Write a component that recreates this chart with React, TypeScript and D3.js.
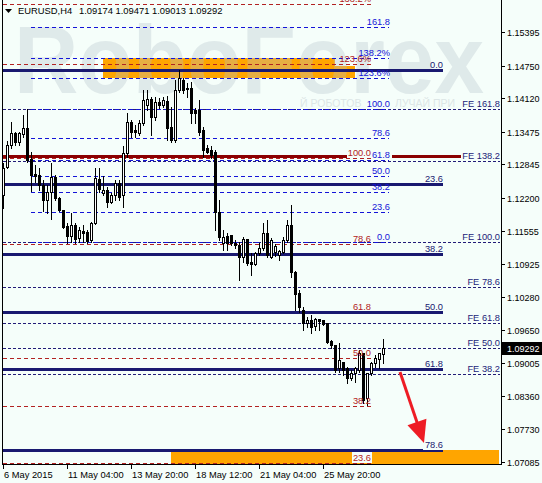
import React from 'react';
import * as d3 from 'd3';

const W = 542;
const H = 483;

// H4 EURUSD candles (bar index 0 = 6 May 2015)
const openP = [1.1225,1.1279,1.1322,1.1345,1.1327,1.1343,1.1355,1.1295,1.1266,1.1264,
1.1244,1.1215,1.1231,1.1260,1.1219,1.1196,1.1165,1.1146,1.1167,1.1142,
1.1156,1.1154,1.1138,1.1171,1.1256,1.1229,1.1235,1.1212,1.1225,1.1248,
1.1225,1.1306,1.1366,1.1351,1.1345,1.1364,1.1399,1.1411,1.1376,1.1405,
1.1399,1.1407,1.1356,1.1331,1.1428,1.1447,1.1432,1.1432,1.1389,1.1389,
1.1351,1.1316,1.1312,1.1308,1.1192,1.1132,1.1146,1.1148,1.1132,1.1129,
1.1105,1.1140,1.1096,1.1092,1.1113,1.1123,1.1152,1.1105,1.1115,1.1109,
1.1115,1.1138,1.1167,1.1076,1.1036,1.1003,1.0978,1.0984,1.0972,1.0985,
1.0984,1.0978,1.0943,1.0935,1.0891,1.0902,1.0891,1.0871,1.0881,1.0887,
1.0920,1.0833,1.0881,1.0900,1.0908,1.09174];
const highP = [1.1287,1.1329,1.1366,1.1347,1.1347,1.1380,1.1391,1.1308,1.1283,1.1277,
1.1254,1.1244,1.1287,1.1264,1.1221,1.1196,1.1171,1.1190,1.1171,1.1163,
1.1167,1.1157,1.1173,1.1277,1.1277,1.1262,1.1241,1.1229,1.1254,1.1254,
1.1320,1.1384,1.1370,1.1360,1.1370,1.1428,1.1428,1.1414,1.1414,1.1413,
1.1414,1.1416,1.1395,1.1447,1.1467,1.1451,1.1442,1.1443,1.1393,1.1409,
1.1356,1.1322,1.1320,1.1312,1.1215,1.1157,1.1152,1.1148,1.1138,1.1134,
1.1144,1.1140,1.1113,1.1115,1.1132,1.1171,1.1177,1.1142,1.1130,1.1119,
1.1144,1.1177,1.1206,1.1078,1.1041,1.1009,1.0989,1.0993,1.0987,1.0985,
1.0984,1.0978,1.0945,1.0935,1.0939,1.0902,1.0893,1.0887,1.0893,1.0926,
1.0920,1.0881,1.0902,1.0916,1.0920,1.09471];
const lowP = [1.1200,1.1277,1.1316,1.1322,1.1322,1.1337,1.1289,1.1233,1.1250,1.1235,
1.1194,1.1190,1.1179,1.1215,1.1194,1.1161,1.1132,1.1134,1.1132,1.1134,
1.1134,1.1132,1.1134,1.1169,1.1231,1.1225,1.1202,1.1210,1.1215,1.1215,
1.1202,1.1299,1.1337,1.1337,1.1341,1.1360,1.1389,1.1341,1.1370,1.1393,
1.1395,1.1331,1.1327,1.1327,1.1424,1.1422,1.1414,1.1364,1.1364,1.1341,
1.1299,1.1306,1.1297,1.1157,1.1138,1.1119,1.1119,1.1129,1.1123,1.1061,
1.1096,1.1090,1.1070,1.1090,1.1109,1.1119,1.1105,1.1103,1.1107,1.1099,
1.1113,1.1134,1.1067,1.1003,1.0999,1.0964,1.0970,1.0958,1.0964,1.0964,
1.0974,1.0939,1.0929,1.0883,1.0883,1.0877,1.0862,1.0868,1.0864,1.0883,
1.0823,1.0819,1.0877,1.0893,1.0891,1.09013];
const closeP = [1.1277,1.1322,1.1345,1.1327,1.1345,1.1355,1.1293,1.1264,1.1262,1.1244,
1.1215,1.1231,1.1260,1.1219,1.1196,1.1163,1.1146,1.1167,1.1140,1.1157,
1.1152,1.1136,1.1171,1.1258,1.1237,1.1235,1.1212,1.1225,1.1248,1.1221,
1.1306,1.1366,1.1347,1.1347,1.1364,1.1409,1.1411,1.1376,1.1405,1.1399,
1.1409,1.1355,1.1331,1.1428,1.1451,1.1428,1.1430,1.1384,1.1384,1.1347,
1.1312,1.1308,1.1302,1.1192,1.1144,1.1144,1.1132,1.1132,1.1129,1.1105,
1.1140,1.1094,1.1092,1.1113,1.1123,1.1152,1.1109,1.1138,1.1127,1.1117,
1.1138,1.1167,1.1076,1.1034,1.1009,1.0978,1.0984,1.0970,1.0985,1.0982,
1.0976,1.0941,1.0935,1.0887,1.0906,1.0887,1.0871,1.0881,1.0891,1.0920,
1.0829,1.0881,1.0900,1.0910,1.0920,1.09292];

const priceTicks = [1.15395, 1.1475, 1.1412, 1.13475, 1.12845, 1.122, 1.11555, 1.10925, 1.1028, 1.0965, 1.09005, 1.0836, 1.0773, 1.07085];
const timeTickBars = [0, 16, 32, 48, 64, 80];
const timeTickLabels = ['6 May 2015', '11 May 04:00', '13 May 20:00', '18 May 12:00', '21 May 04:00', '25 May 20:00'];

const headerSymbol = 'EURUSD,H4';
const headerOHLC = '1.09174 1.09471 1.09013 1.09292';
const lastPrice = 1.09292;

// Fibonacci retracement (blue dashed)
const blueLevels = [1.1550, 1.1490, 1.1451, 1.1391, 1.1335, 1.1293, 1.1262, 1.1231, 1.1192, 1.1134];
const blueLabels = ['161.8', '138.2%', '123.6%', '100.0', '78.6', '61.8', '50.0', '38.2', '23.6', '0.0'];
const blueRange = [7, 96.5];

// Fibonacci retracement (red dashed)
const redLevels = [1.1594, 1.1478, 1.1297, 1.1130, 1.0999, 1.0910, 1.0817, 1.0707];
const redLabels = ['138.2%', '123.6%', '100.0', '78.6', '61.8', '50.0', '38.2', '23.6'];
const redRange = [0, 92];

// Fibonacci retracement (navy solid)
const navyLevels = [1.1467, 1.1246, 1.1111, 1.0999, 1.0889, 1.0732];
const navyLabels = ['0.0', '23.6', '38.2', '50.0', '61.8', '78.6'];
const navyRange = [0, 110];

// Fibonacci expansion (navy dashed)
const feLevels = [1.1391, 1.1291, 1.1134, 1.1047, 1.0978, 1.0929, 1.0879];
const feLabels = ['FE 161.8', 'FE 138.2', 'FE 100.0', 'FE 78.6', 'FE 61.8', 'FE 50.0', 'FE 38.2'];
const feRange = [0, 124.25];

// Dark red horizontal support line
const supportLevel = 1.1300;
const supportSegments = [[0, 86], [97.25, 114.5]];

// Orange zones [barStart, barEnd, priceTop, priceBottom]
const zoneBarStart = [25, 25, 42];
const zoneBarEnd = [83, 88, 124];
const zoneTop = [1.1490, 1.1475, 1.0732];
const zoneBottom = [1.1475, 1.1451, 1.0700];

// Forecast arrow
const arrowBars = [99.25, 105.25];
const arrowPrices = [1.0883, 1.0746];

const BG = '#F5FEFA';
const FONT = "'Liberation Sans', Arial, sans-serif";
const NAVY = '#191970';
const BLUE = '#1414D8';
const RED = '#B22222';
const DARKRED = '#8B0000';
const FE_COL = '#231C78';

export default function App() {
  const x = d3.scaleLinear().domain([0, 124]).range([3, 499]);
  const y = d3.scaleLinear().domain([1.15395, 1.07085]).range([32.3, 462.3]);
  const px = (i: number) => Math.round(x(i));
  const py = (p: number) => Math.round(y(p));

  const plotRight = 501;
  const plotBottom = 464;

  const hline = (key: string, a: number, b: number, p: number, color: string, width: number, dash?: string) => (
    <line key={key} x1={px(a)} x2={px(b)} y1={py(p) + 0.5} y2={py(p) + 0.5}
      stroke={color} strokeWidth={width} strokeDasharray={dash} shapeRendering="crispEdges" />
  );

  const candles = openP.map((o, i) => {
    const c = closeP[i];
    const cx = px(i) + 0.5;
    const yh = py(highP[i]);
    const yl = py(lowP[i]);
    const yo = py(o);
    const yc = py(c);
    const top = Math.min(yo, yc);
    const bot = Math.max(yo, yc);
    const bull = c > o;
    return (
      <g key={'c' + i} shapeRendering="crispEdges">
        <line x1={cx} x2={cx} y1={yh} y2={yl + 1} stroke="#000" strokeWidth={1} />
        {bull ? (
          <rect x={cx - 1} y={top + 0.5} width={2} height={Math.max(0, bot - top)} fill="#FFFFFF" stroke="#000" strokeWidth={1} />
        ) : (
          <rect x={cx - 1.5} y={top} width={3} height={Math.max(1, bot - top + 1)} fill="#000" />
        )}
      </g>
    );
  });

  // arrow geometry
  const ax1 = x(arrowBars[0]);
  const ay1 = y(arrowPrices[0]);
  const ax2 = x(arrowBars[1]);
  const ay2 = y(arrowPrices[1]);
  const len = Math.hypot(ax2 - ax1, ay2 - ay1);
  const ux = (ax2 - ax1) / len;
  const uy = (ay2 - ay1) / len;
  const headL = 22;
  const headW = 10;
  const bx = ax2 - ux * headL;
  const by = ay2 - uy * headL;
  const head = `${ax2},${ay2} ${bx - uy * headW},${by + ux * headW} ${bx + uy * headW},${by - ux * headW}`;

  return (
    <div style={{ position: 'absolute', left: 0, top: 0, width: W, height: H }}>
      <svg width={W} height={H} style={{ display: 'block' }} fontFamily={FONT}>
        <defs>
          <clipPath id="plot">
            <rect x={3} y={0} width={plotRight - 3} height={plotBottom} />
          </clipPath>
        </defs>
        <rect x={0} y={0} width={W} height={H} fill={BG} />

        <g clipPath="url(#plot)">
          {/* orange zones */}
          {zoneBarStart.map((s, i) => (
            <rect key={'z' + i} x={px(s)} y={py(zoneTop[i])} width={px(zoneBarEnd[i]) - px(s)}
              height={py(zoneBottom[i]) - py(zoneTop[i])} fill="#FFA500" />
          ))}

          {/* watermark */}
          <text x={14} y={93} fontSize={97} fontWeight="bold" fill="#B4C2CA" opacity={0.33} textLength={470}
            lengthAdjust="spacingAndGlyphs" fontFamily={FONT}>RoboForex</text>
          <text x={300} y={107} fontSize={10.5} fill="#C9D3D6" opacity={0.55}>Й РОБОТОВ</text>
          <text x={395} y={107} fontSize={10.5} fill="#C9D3D6" opacity={0.55}>ЛУЧАЙ ПРИ</text>

          {/* FE lines */}
          {feLevels.map((p, i) => hline('fe' + i, feRange[0], feRange[1], p, FE_COL, 1, '3,2'))}
          {/* red dashed */}
          {redLevels.map((p, i) => hline('r' + i, redRange[0], redRange[1], p, RED, 1, '4,3'))}
          {/* blue dashed */}
          {blueLevels.map((p, i) => hline('b' + i, blueRange[0], blueRange[1], p, BLUE, 1, '4,3'))}
          {/* navy solid */}
          {navyLevels.map((p, i) => hline('n' + i, navyRange[0], navyRange[1], p, NAVY, 3))}
          {/* dark red support */}
          {supportSegments.map((s, i) => hline('s' + i, s[0], s[1], supportLevel, DARKRED, 3))}

          {candles}

          {/* labels */}
          {feLevels.map((p, i) => (
            <text key={'fel' + i} x={px(feRange[1])} y={py(p) - 2} fontSize={9.3} fill={FE_COL} textAnchor="end">{feLabels[i]}</text>
          ))}
          {redLevels.map((p, i) => {
            const tx = px(redRange[1]);
            const isLow = i === redLevels.length - 1;
            return (
              <g key={'rl' + i}>
                {isLow && <rect x={tx - 19} y={py(p) - 11} width={20} height={11} fill={BG} />}
                <text x={tx} y={py(p) - 2} fontSize={9.3} fill={RED} textAnchor="end">{redLabels[i]}</text>
              </g>
            );
          })}
          {blueLevels.map((p, i) => (
            <text key={'bl' + i} x={px(blueRange[1]) + 1} y={py(p) - 2} fontSize={9.3} fill={BLUE} textAnchor="end">{blueLabels[i]}</text>
          ))}
          {navyLevels.map((p, i) => {
            const tx = px(navyRange[1]);
            const isLow = i === navyLevels.length - 1;
            return (
              <g key={'nl' + i}>
                {isLow && <rect x={tx - 20} y={py(p) - 10} width={21} height={10} fill={BG} />}
                <text x={tx} y={py(p) - 2} fontSize={9.3} fill={NAVY} textAnchor="end">{navyLabels[i]}</text>
              </g>
            );
          })}

          {/* arrow */}
          <line x1={ax1} y1={ay1} x2={bx + ux * 2} y2={by + uy * 2} stroke="#EE1C24" strokeWidth={3} />
          <polygon points={head} fill="#EE1C24" />
        </g>

        {/* header */}
        <polygon points="5,9 12,9 8.5,13" fill="#000" />
        <text x={18} y={13.5} fontSize={9.4} fill="#000">{headerSymbol}</text>
        <text x={79} y={13.5} fontSize={9.4} fill="#000">{headerOHLC}</text>

        {/* frame */}
        <g shapeRendering="crispEdges" stroke="#000">
          <line x1={2.5} x2={2.5} y1={0} y2={plotBottom + 1} />
          <line x1={plotRight + 0.5} x2={plotRight + 0.5} y1={0} y2={plotBottom + 1} />
          <line x1={2} x2={plotRight + 1} y1={plotBottom + 0.5} y2={plotBottom + 0.5} />
        </g>

        {/* price axis */}
        {priceTicks.map((p, i) => (
          <g key={'pt' + i}>
            <line x1={plotRight} x2={plotRight + 4} y1={py(p) + 0.5} y2={py(p) + 0.5} stroke="#000" shapeRendering="crispEdges" />
            <text x={507} y={py(p) + 3.5} fontSize={9} fill="#000">{d3.format('.5f')(p)}</text>
          </g>
        ))}
        <rect x={502} y={py(lastPrice) - 6} width={40} height={13} fill="#000" />
        <text x={507} y={py(lastPrice) + 3.5} fontSize={9} fill="#FFF">{d3.format('.5f')(lastPrice)}</text>

        {/* time axis */}
        {timeTickBars.map((b, i) => (
          <g key={'tt' + i}>
            <line x1={px(b) + 0.5} x2={px(b) + 0.5} y1={plotBottom} y2={plotBottom + 5} stroke="#000" shapeRendering="crispEdges" />
            <text x={px(b) + 1} y={478} fontSize={9.3} fill="#000">{timeTickLabels[i]}</text>
          </g>
        ))}
      </svg>
    </div>
  );
}
